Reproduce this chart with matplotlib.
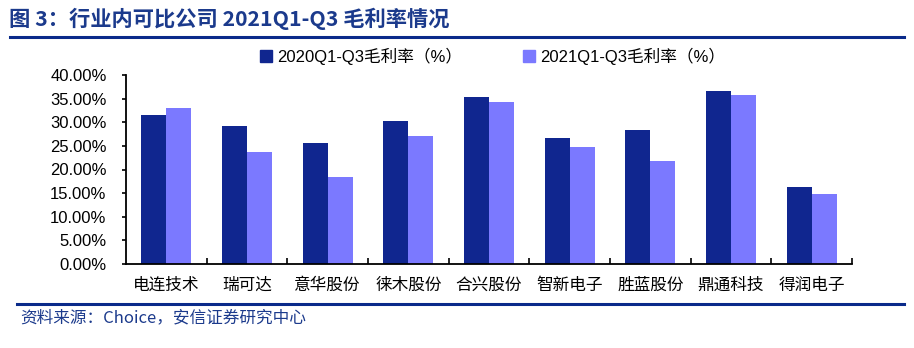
import matplotlib
matplotlib.use("Agg")
import matplotlib.pyplot as plt
import numpy as np
from matplotlib.ticker import FuncFormatter, FixedLocator
from matplotlib.lines import Line2D

categories = ["电连技术", "瑞可达", "意华股份", "徕木股份", "合兴股份", "智新电子", "胜蓝股份", "鼎通科技", "得润电子"]
gm_2020 = [31.6, 29.3, 25.7, 30.3, 35.3, 26.6, 28.3, 36.6, 16.4]
gm_2021 = [33.0, 23.8, 18.4, 27.0, 34.3, 24.7, 21.8, 35.7, 14.8]
series_names = ["2020Q1-Q3毛利率（%）", "2021Q1-Q3毛利率（%）"]
yticks = [0, 5, 10, 15, 20, 25, 30, 35, 40]
title = "图 3：行业内可比公司 2021Q1-Q3 毛利率情况"
source = "资料来源：Choice，安信证券研究中心"

CJK = ["Noto Sans CJK SC", "DejaVu Sans"]
LAT = ["Liberation Sans", "Noto Sans CJK SC"]
dark = "#10268F"
light = "#7B79FF"
navy = "#1B3A8C"

fig = plt.figure(figsize=(9.14, 3.48), dpi=100)
ax = fig.add_axes([126/914, 1-264/348, (852-126)/914, (264-75)/348])

x = np.arange(len(categories))
w = 0.31
ax.bar(x - w/2, gm_2020, width=w, color=dark, label=series_names[0], zorder=2)
ax.bar(x + w/2, gm_2021, width=w, color=light, label=series_names[1], zorder=2)

ax.set_xlim(-0.5, len(categories) - 0.5)
ax.set_ylim(0, 40)
ax.set_yticks(yticks)
ax.yaxis.set_major_formatter(FuncFormatter(lambda v, p: f"{v:.2f}%"))
for lab in ax.get_yticklabels():
    lab.set_fontfamily(LAT)
    lab.set_fontsize(12)
ax.set_xticks(x)
ax.set_xticklabels(categories, fontfamily=CJK, fontsize=12)
ax.tick_params(axis="x", length=0, pad=9)
ax.tick_params(axis="y", length=3, direction="out", pad=11, width=1.2)
ax.xaxis.set_minor_locator(FixedLocator(np.arange(0.5, len(categories), 1.0)))
ax.tick_params(axis="x", which="minor", length=4, direction="in", width=1.2)
for s in ["top", "right"]:
    ax.spines[s].set_visible(False)
ax.spines["left"].set_linewidth(1.3)
ax.spines["bottom"].set_linewidth(1.3)

handles = [plt.Rectangle((0, 0), 1, 1, color=dark), plt.Rectangle((0, 0), 1, 1, color=light)]
leg = fig.legend(handles, series_names, loc="center left", bbox_to_anchor=(260/914, 1-56/348), ncol=2,
                 frameon=False, prop={"family": LAT, "size": 12}, handlelength=0.7,
                 handleheight=0.7, columnspacing=3.7, handletextpad=0.3,
                 borderpad=0, borderaxespad=0)

fig.text(9/914, 1-19/348, title, fontfamily=CJK, fontsize=15.3, fontweight="bold", color=navy, va="center", ha="left")
fig.add_artist(Line2D([10/914, 904/914], [1-37/348, 1-37/348], color="#0A2A8A", lw=2.2))
fig.add_artist(Line2D([17/914, 904/914], [1-304/348, 1-304/348], color="#0A2A8A", lw=2.2))
fig.text(20/914, 1-318/348, source, fontfamily=CJK, fontsize=12, style="italic", color=navy, va="center", ha="left")

fig.savefig("out.png", dpi=100)
